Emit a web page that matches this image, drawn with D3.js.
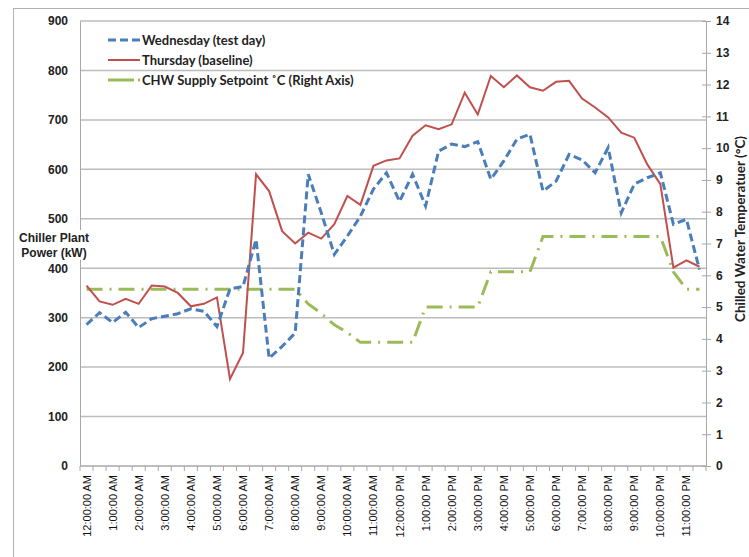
<!DOCTYPE html>
<html>
<head>
<meta charset="utf-8">
<script src="https://cdn.jsdelivr.net/npm/d3@7"></script>
<style>
  body { margin: 0; background: #fff; }
  svg { display: block; }
</style>
</head>
<body>
<div id="chart"></div>
<script>
// half-hourly categories, a label on every full hour
const categories = [
  "12:00 AM","12:30 AM","1:00 AM","1:30 AM","2:00 AM","2:30 AM","3:00 AM","3:30 AM",
  "4:00 AM","4:30 AM","5:00 AM","5:30 AM","6:00 AM","6:30 AM","7:00 AM","7:30 AM",
  "8:00 AM","8:30 AM","9:00 AM","9:30 AM","10:00 AM","10:30 AM","11:00 AM","11:30 AM",
  "12:00 PM","12:30 PM","1:00 PM","1:30 PM","2:00 PM","2:30 PM","3:00 PM","3:30 PM",
  "4:00 PM","4:30 PM","5:00 PM","5:30 PM","6:00 PM","6:30 PM","7:00 PM","7:30 PM",
  "8:00 PM","8:30 PM","9:00 PM","9:30 PM","10:00 PM","10:30 PM","11:00 PM","11:30 PM"
];
const tickLabels = [
  "12:00:00 AM","1:00:00 AM","2:00:00 AM","3:00:00 AM","4:00:00 AM","5:00:00 AM",
  "6:00:00 AM","7:00:00 AM","8:00:00 AM","9:00:00 AM","10:00:00 AM","11:00:00 AM",
  "12:00:00 PM","1:00:00 PM","2:00:00 PM","3:00:00 PM","4:00:00 PM","5:00:00 PM",
  "6:00:00 PM","7:00:00 PM","8:00:00 PM","9:00:00 PM","10:00:00 PM","11:00:00 PM"
];
const wednesday = [286,310,290,311,280,298,303,308,318,313,282,358,363,458,218,242,
  269,590,512,428,465,505,560,593,535,590,526,637,651,646,656,580,
  617,661,671,556,576,630,619,593,644,512,570,583,593,489,499,397];
const thursday = [365,333,326,338,328,365,363,350,323,328,341,176,229,590,556,475,
  450,472,460,489,546,528,607,618,622,668,689,681,691,755,711,789,
  766,790,766,759,777,779,743,725,705,674,664,610,570,401,416,403];
const setpoint = [5.56,5.56,5.56,5.56,5.56,5.56,5.56,5.56,5.56,5.56,5.56,5.56,5.56,5.56,5.56,5.56,
  5.56,5.1,4.8,4.44,4.2,3.89,3.89,3.89,3.89,3.89,5.0,5.0,5.0,5.0,5.0,6.11,
  6.11,6.11,6.11,7.22,7.22,7.22,7.22,7.22,7.22,7.22,7.22,7.22,7.22,6.11,5.56,5.56];
const powerTicks = [0,100,200,300,400,500,600,700,800,900];
const tempTicks = d3.range(0, 15);
const seriesNames = ["Wednesday (test day)", "Thursday (baseline)", "CHW Supply Setpoint \u02daC (Right Axis)"];

const W = 749, H = 557;
const plot = {left: 80, right: 706, top: 21, bottom: 466};

const svg = d3.select("#chart").append("svg")
  .attr("width", W).attr("height", H);

// outer chart border
svg.append("rect")
  .attr("x", 13.5).attr("y", 8.5).attr("width", 800).attr("height", 600)
  .attr("fill", "none").attr("stroke", "#b0b0b0");

const x = d3.scaleBand()
  .domain(categories)
  .range([plot.left, plot.right]);
const cx = d => x(d) + x.bandwidth() / 2;

const y = d3.scaleLinear().domain([0, 900]).range([plot.bottom, plot.top]);
const y2 = d3.scaleLinear().domain([0, 14]).range([plot.bottom, plot.top]);

// gridlines
svg.append("g").selectAll("line")
  .data(powerTicks.filter(d => d > 0))
  .join("line")
    .attr("x1", plot.left).attr("x2", plot.right)
    .attr("y1", d => y(d)).attr("y2", d => y(d))
    .attr("stroke", "#bcbcbc").attr("stroke-width", 1.5);

// left axis
const leftAxis = svg.append("g")
  .attr("transform", `translate(${plot.left},0)`)
  .call(d3.axisLeft(y).tickValues(powerTicks).tickSize(0).tickPadding(12));
leftAxis.select(".domain").attr("stroke", "#a8a8a8");
leftAxis.selectAll("text")
  .attr("font-family", "Liberation Sans, Arial, sans-serif")
  .attr("font-weight", "bold").attr("font-size", 12).attr("fill", "#222");

// right axis
const rightAxis = svg.append("g")
  .attr("transform", `translate(${plot.right},0)`)
  .call(d3.axisRight(y2).tickValues(tempTicks).tickSize(5).tickPadding(5));
rightAxis.select(".domain").attr("stroke", "#a8a8a8");
rightAxis.selectAll(".tick line").attr("stroke", "#a8a8a8").attr("x1", -4);
rightAxis.selectAll("text")
  .attr("font-family", "Liberation Sans, Arial, sans-serif")
  .attr("font-weight", "bold").attr("font-size", 12).attr("fill", "#222");

// bottom axis: ticks between every category, labels every full hour
const bottom = svg.append("g").attr("transform", `translate(0,${plot.bottom})`);
bottom.append("line")
  .attr("x1", plot.left).attr("x2", plot.right)
  .attr("stroke", "#a8a8a8").attr("stroke-width", 1.5);
bottom.selectAll("line.tk")
  .data(categories.concat(["end"]))
  .join("line").attr("class", "tk")
    .attr("x1", (d, i) => plot.left + i * x.step())
    .attr("x2", (d, i) => plot.left + i * x.step())
    .attr("y1", 0).attr("y2", 5)
    .attr("stroke", "#a8a8a8");
bottom.selectAll("text")
  .data(tickLabels)
  .join("text")
    .attr("transform", (d, i) => `translate(${cx(categories[i * 2]) + 4},9) rotate(-90)`)
    .attr("text-anchor", "end")
    .attr("font-family", "Liberation Sans, Arial, sans-serif")
    .attr("font-size", 11).attr("fill", "#111")
    .text(d => d);

// series
const lineL = d3.line().x((d, i) => cx(categories[i])).y(d => y(d));
const lineR = d3.line().x((d, i) => cx(categories[i])).y(d => y2(d));

svg.append("path").datum(setpoint)
  .attr("d", lineR).attr("fill", "none")
  .attr("stroke", "#9bbb59").attr("stroke-width", 3)
  .attr("stroke-dasharray", "16,7,2,7");
svg.append("path").datum(thursday)
  .attr("d", lineL).attr("fill", "none")
  .attr("stroke", "#c0504d").attr("stroke-width", 2);
svg.append("path").datum(wednesday)
  .attr("d", lineL).attr("fill", "none")
  .attr("stroke", "#4a7ebb").attr("stroke-width", 3)
  .attr("stroke-dasharray", "8,4");

// legend
const legendStyles = [
  {stroke: "#4a7ebb", width: 3, dash: "8,4"},
  {stroke: "#c0504d", width: 2, dash: null},
  {stroke: "#9bbb59", width: 3, dash: "26,4"}
];
const legend = svg.append("g");
seriesNames.forEach((name, i) => {
  const ly = 40 + i * 20;
  legend.append("line")
    .attr("x1", 108).attr("x2", 140).attr("y1", ly).attr("y2", ly)
    .attr("stroke", legendStyles[i].stroke).attr("stroke-width", legendStyles[i].width)
    .attr("stroke-dasharray", legendStyles[i].dash);
  legend.append("text")
    .attr("x", 142).attr("y", ly + 4.5)
    .attr("font-family", "Lato, sans-serif").attr("font-weight", "bold")
    .attr("font-size", 13).attr("fill", "#222")
    .text(name);
});

// left title over the axis line
svg.append("rect").attr("x", 14).attr("y", 230).attr("width", 82).attr("height", 30).attr("fill", "#fff");
const lt = svg.append("text")
  .attr("text-anchor", "middle")
  .attr("font-family", "Liberation Sans, Arial, sans-serif")
  .attr("font-weight", "bold").attr("font-size", 12).attr("fill", "#222");
lt.append("tspan").attr("x", 54).attr("y", 242).text("Chiller Plant");
lt.append("tspan").attr("x", 54).attr("y", 257).text("Power (kW)");

// right title
svg.append("text")
  .attr("transform", "translate(745,229) rotate(-90)")
  .attr("text-anchor", "middle")
  .attr("font-family", "Lato, sans-serif")
  .attr("font-weight", "bold").attr("font-size", 13.5).attr("fill", "#222")
  .text("Chilled Water Temperatuer (\u00b0C)");
</script>
</body>
</html>
